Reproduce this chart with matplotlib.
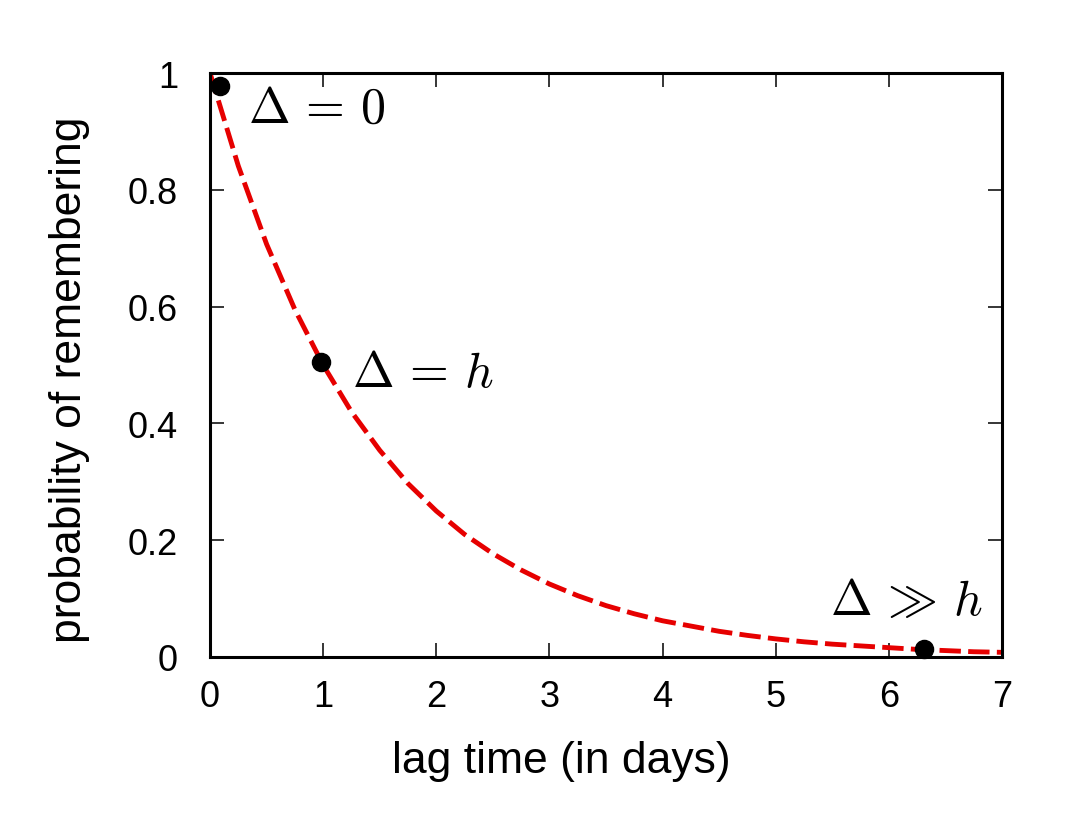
import matplotlib
matplotlib.use("Agg")
import matplotlib.pyplot as plt

# curve values (lag time in days, probability)
lag_days = [0.0, 0.25, 0.5, 0.75, 1.0, 1.25, 1.5, 1.75, 2.0, 2.25, 2.5, 2.75,
            3.0, 3.25, 3.5, 3.75, 4.0, 4.25, 4.5, 4.75, 5.0, 5.25, 5.5, 5.75,
            6.0, 6.25, 6.5, 6.75, 7.0]
prob = [1.000, 0.841, 0.707, 0.595, 0.500, 0.420, 0.354, 0.297, 0.250, 0.210,
        0.177, 0.149, 0.125, 0.105, 0.088, 0.074, 0.062, 0.053, 0.044, 0.037,
        0.031, 0.026, 0.022, 0.019, 0.016, 0.013, 0.011, 0.009, 0.008]

# marked points
pt_x = [0.09, 0.98, 6.31]
pt_y = [0.977, 0.505, 0.014]
pt_labels = [r"$\Delta\,=\,0$", r"$\Delta\,=\,h$", r"$\Delta\,\gg\,h$"]

xticks = [0, 1, 2, 3, 4, 5, 6, 7]
yticks = [0, 0.2, 0.4, 0.6, 0.8, 1]
ytick_labels = ["0", "0.2", "0.4", "0.6", "0.8", "1"]

plt.rcParams['font.family'] = ['Liberation Sans', 'DejaVu Sans']
plt.rcParams['mathtext.fontset'] = 'cm'

fig = plt.figure(figsize=(10.70, 8.28), dpi=100)
ax = fig.add_axes([210/1070, 1 - 658/828, 792/1070, 584/828])

ax.plot(lag_days, prob, color='#e60000', lw=3.5, dashes=(4.4, 1.5), zorder=2)
ax.scatter(pt_x, pt_y, s=170, color='black', zorder=3, clip_on=False)

ax.text(0.335, 0.916, pt_labels[0], fontsize=36, ha='left', va='baseline')
ax.text(1.255, 0.464, pt_labels[1], fontsize=36, ha='left', va='baseline')
ax.text(6.83, 0.074, pt_labels[2], fontsize=36, ha='right', va='baseline')

ax.set_xlim(0, 7)
ax.set_ylim(0, 1)
ax.set_xticks(xticks)
ax.set_xticklabels([str(t) for t in xticks])
ax.set_yticks(yticks)
ax.set_yticklabels(ytick_labels)
ax.tick_params(direction='in', length=10, width=1.1, labelsize=26,
               top=True, right=True)
ax.tick_params(axis='x', pad=16)
ax.tick_params(axis='y', pad=23)
for s in ax.spines.values():
    s.set_linewidth(2.2)

ax.set_xlabel("lag time (in days)", fontsize=32, va='baseline')
ax.xaxis.set_label_coords(0.443, -0.197)
ax.set_ylabel("probability of remembering", fontsize=32, va='center')
ax.yaxis.set_label_coords(-0.177, 0.476)

fig.savefig("out.png", dpi=100)
